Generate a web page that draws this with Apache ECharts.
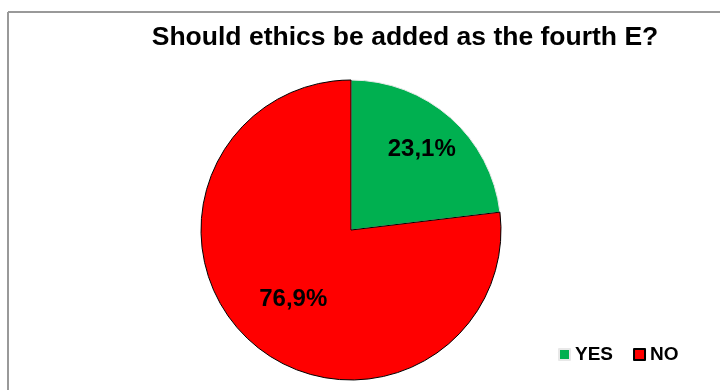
<!DOCTYPE html>
<html lang="en">
<head>
    <meta charset="UTF-8">
    <script src="https://cdn.jsdelivr.net/npm/echarts@6/dist/echarts.min.js"></script>
    <style>
        body, html {
            margin: 0;
            height: 100%;
            background: #fff;
        }

        #main {
            width: 720px;
            height: 390px;
        }
    </style>
    <title>Should ethics be added as the fourth E?</title>
</head>
<body>

<div id="main"></div>
<script type="text/javascript">
    const myChart = echarts.init(document.getElementById('main'));

    const titleText = 'Should ethics be added as the fourth E?';
    const categories = ['YES', 'NO'];
    const values = [23.1, 76.9];
    const colors = ['#00b050', '#ff0000'];
    const borders = ['#e8e8e8', '#000000'];
    const labelOffsets = [[19, -22], [-6, 11]];

    const pieData = categories.map(function (name, i) {
        return {
            name: name,
            value: values[i],
            itemStyle: {color: colors[i], borderColor: borders[i], borderWidth: 1},
            label: {offset: labelOffsets[i]}
        };
    });

    const option = {
        animation: false,
        title: {
            text: titleText,
            left: 400,
            textAlign: 'center',
            top: 19,
            textStyle: {
                fontFamily: 'Liberation Sans, Arial, sans-serif',
                fontWeight: 'bold',
                fontSize: 26.5,
                color: '#000'
            }
        },
        legend: {
            data: categories,
            left: 553,
            top: 340,
            icon: 'rect',
            itemWidth: 11,
            itemHeight: 11,
            itemGap: 20,
            textStyle: {
                fontFamily: 'Liberation Sans, Arial, sans-serif',
                fontWeight: 'bold',
                fontSize: 19,
                color: '#000'
            }
        },
        graphic: [
            {type: 'line', shape: {x1: 8, y1: 12, x2: 720, y2: 12}, style: {stroke: '#999', lineWidth: 2}},
            {type: 'line', shape: {x1: 8, y1: 12, x2: 8, y2: 390}, style: {stroke: '#999', lineWidth: 2}}
        ],
        series: [
            {
                type: 'pie',
                center: [351, 230],
                radius: 150,
                startAngle: 90,
                clockwise: true,
                data: pieData,
                label: {
                    show: true,
                    position: 'inside',
                    formatter: function (p) {
                        return p.value.toFixed(1).replace('.', ',') + '%';
                    },
                    fontFamily: 'Liberation Sans, Arial, sans-serif',
                    fontWeight: 'bold',
                    fontSize: 24,
                    color: '#000'
                },
                labelLine: {show: false},
                emphasis: {disabled: true}
            }
        ]
    };
    myChart.setOption(option);
</script>
</body>
</html>
